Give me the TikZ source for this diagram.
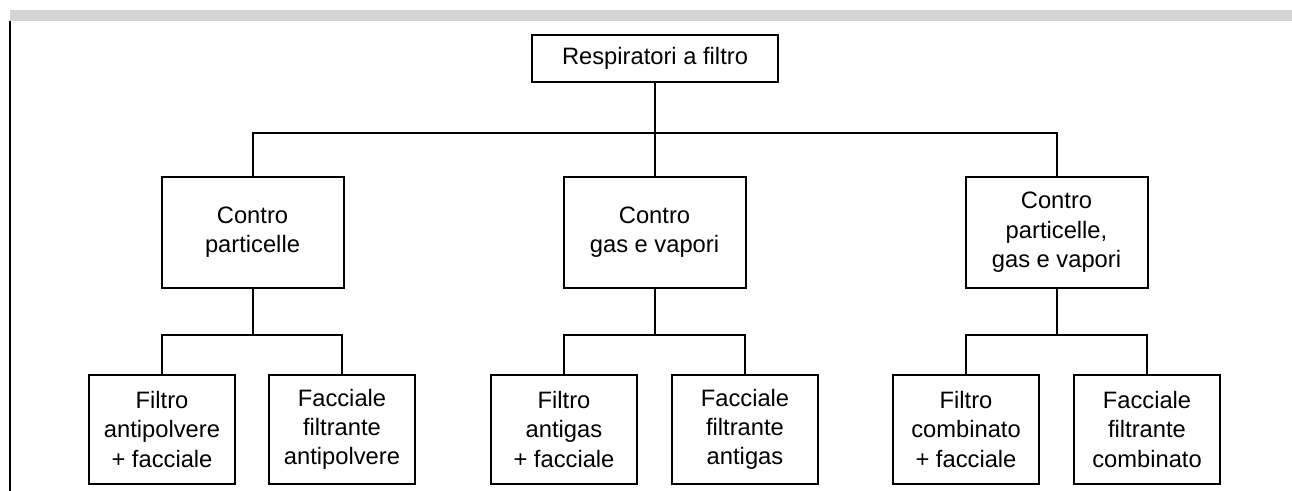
\documentclass[tikz,border=0pt]{standalone}
\usepackage{fontspec}
\setmainfont{Liberation Sans}
\begin{document}
\begin{tikzpicture}[x=0.75pt, y=-0.75pt, line width=1.5pt,
    box/.style={draw, align=center, inner sep=0pt, font=\fontsize{17.8}{22}\selectfont},
    topbox/.style={box, minimum width=184.5pt, minimum height=35.25pt},
    midbox/.style={box, minimum width=136.5pt, minimum height=83.25pt},
    leafbox/.style={box, minimum width=109.5pt, minimum height=81.75pt}]
  \useasboundingbox (0,0) rectangle (1292,491);
  % header bar and left rule
  \fill[black!17] (10,10) rectangle (1292,21);
  \draw[line width=0.8pt] (10,21) -- (10,491);

  \node[topbox] (resp) at (655,58.5) {Respiratori a filtro};

  \node[midbox] (part) at (252.5,232.5) {Contro\\particelle};
  \node[midbox] (gas) at (654.5,232.5) {Contro\\gas e vapori};
  \node[midbox] (comb) at (1056.5,232.5) {Contro\\particelle,\\gas e vapori};

  \node[leafbox] (fpart) at (162,429.5) {Filtro\\antipolvere\\+ facciale};
  \node[leafbox] (ffpart) at (342,429.5) {Facciale\\filtrante\\antipolvere};
  \node[leafbox] (fgas) at (564,429.5) {Filtro\\antigas\\+ facciale};
  \node[leafbox] (ffgas) at (745,429.5) {Facciale\\filtrante\\antigas};
  \node[leafbox] (fcomb) at (966,429.5) {Filtro\\combinato\\+ facciale};
  \node[leafbox] (ffcomb) at (1147,429.5) {Facciale\\filtrante\\combinato};

  % connectors
  \coordinate (j0) at (655,133);
  \draw (resp.south) -- (j0);
  \draw (part.north) |- (j0) -| (comb.north);
  \draw (gas.north) -- (gas.north |- j0);

  \foreach \up/\l/\r in {part/fpart/ffpart, gas/fgas/ffgas, comb/fcomb/ffcomb} {
    \coordinate (j-\up) at ([yshift=-34.5pt]\up.south);
    \draw (\up.south) -- (j-\up);
    \draw (\l.north) |- (j-\up) -| (\r.north);
  }
\end{tikzpicture}
\end{document}
